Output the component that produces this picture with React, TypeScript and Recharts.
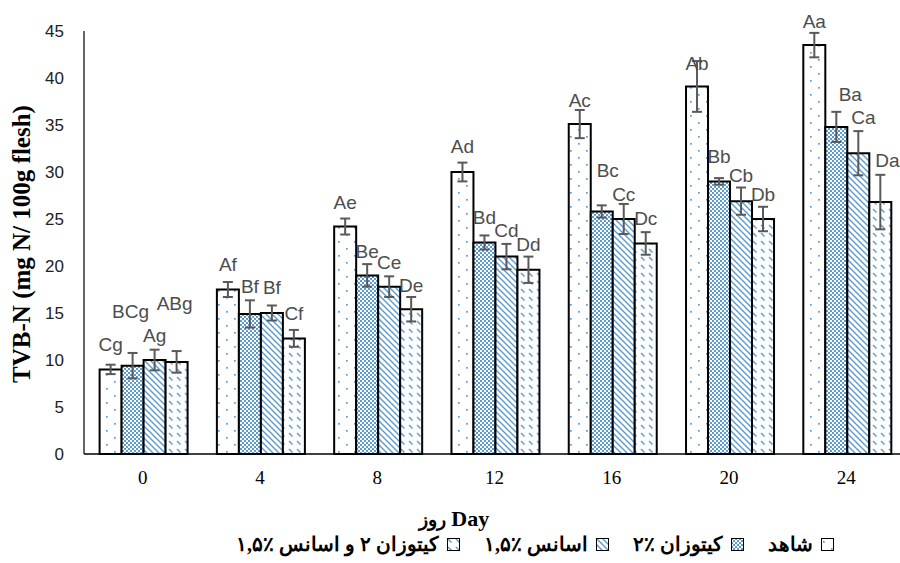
import { Bar, BarChart, ErrorBar, LabelList, XAxis, YAxis } from "recharts";

const DAYS = ["0", "4", "8", "12", "16", "20", "24"];
const Y_TICKS = [0, 5, 10, 15, 20, 25, 30, 35, 40, 45];

const SERIES_NAMES = ["شاهد", "کیتوزان ۲٪", "اسانس ۱,۵٪", "کیتوزان ۲ و اسانس ۱,۵٪"];

const CONTROL = [9.0, 17.5, 24.2, 30.0, 35.1, 39.1, 43.5];
const CHITOSAN = [9.4, 14.9, 19.0, 22.5, 25.8, 29.0, 34.8];
const ESSENCE = [10.0, 15.0, 17.8, 21.0, 25.0, 26.9, 32.0];
const COMBINED = [9.8, 12.3, 15.4, 19.6, 22.4, 25.0, 26.8];

const CONTROL_SD = [0.5, 0.8, 0.85, 1.0, 1.5, 2.7, 1.3];
const CHITOSAN_SD = [1.35, 1.45, 1.2, 0.75, 0.65, 0.35, 1.6];
const ESSENCE_SD = [1.1, 0.8, 1.1, 1.35, 1.6, 1.45, 2.35];
const COMBINED_SD = [1.15, 0.9, 1.3, 1.4, 1.2, 1.3, 2.9];

const CONTROL_LETTERS = ["Cg", "Af", "Ae", "Ad", "Ac", "Ab", "Aa"];
const CHITOSAN_LETTERS = ["BCg", "Bf", "Be", "Bd", "Bc", "Bb", "Ba"];
const ESSENCE_LETTERS = ["Ag", "Bf", "Ce", "Cd", "Cc", "Cb", "Ca"];
const COMBINED_LETTERS = ["ABg", "Cf", "De", "Dd", "Dc", "Db", "Da"];

// hand-placed label nudges (px), like the moved labels in the original sheet
const CONTROL_LIFT = [20, 17, 16, 16, 9, -2, 11];
const CHITOSAN_LIFT = [41, 14, 13, 18, 35, 22, 17];
const ESSENCE_LIFT = [14, 18, 14, 13, 9, 12, 14];
const COMBINED_LIFT = [48, 16, 12, 12, 14, 12, 14];
const CONTROL_DX = [0, 0, 0, 0, 0, 0, 0];
const CHITOSAN_DX = [-2, 0, 0, 0, 6, 0, 14];
const ESSENCE_DX = [0, 0, 0, 0, 0, 0, 5];
const COMBINED_DX = [-2, 0, 0, 0, 0, 0, 7];

const BLUE = "#5b9bd5";

const data = DAYS.map((day, i) => ({
  day,
  control: CONTROL[i],
  chitosan: CHITOSAN[i],
  essence: ESSENCE[i],
  combined: COMBINED[i],
  controlSd: CONTROL_SD[i],
  chitosanSd: CHITOSAN_SD[i],
  essenceSd: ESSENCE_SD[i],
  combinedSd: COMBINED_SD[i],
  controlTag: CONTROL_LETTERS[i],
  chitosanTag: CHITOSAN_LETTERS[i],
  essenceTag: ESSENCE_LETTERS[i],
  combinedTag: COMBINED_LETTERS[i],
}));

const series = [
  { key: "control", pattern: "p-dots", values: CONTROL, sd: CONTROL_SD, letters: CONTROL_LETTERS, lift: CONTROL_LIFT, dx: CONTROL_DX },
  { key: "chitosan", pattern: "p-check", values: CHITOSAN, sd: CHITOSAN_SD, letters: CHITOSAN_LETTERS, lift: CHITOSAN_LIFT, dx: CHITOSAN_DX },
  { key: "essence", pattern: "p-diag", values: ESSENCE, sd: ESSENCE_SD, letters: ESSENCE_LETTERS, lift: ESSENCE_LIFT, dx: ESSENCE_DX },
  { key: "combined", pattern: "p-dash", values: COMBINED, sd: COMBINED_SD, letters: COMBINED_LETTERS, lift: COMBINED_LIFT, dx: COMBINED_DX },
];

function makeLabel(s: (typeof series)[number]) {
  return (props: any) => {
    const vb = props.viewBox ?? props;
    const i = typeof props.index === "number" ? props.index : s.letters.indexOf(props.value);
    if (i < 0) return null;
    const x = Number(vb.x ?? props.x);
    const y = Number(vb.y ?? props.y);
    const w = Number(vb.width ?? props.width);
    const h = Number(vb.height ?? props.height);
    const errPx = (h / s.values[i]) * s.sd[i];
    return (
      <text
        x={x + w / 2 + s.dx[i]}
        y={y - errPx - s.lift[i]}
        textAnchor="middle"
        dominantBaseline="central"
        fontFamily="'Liberation Sans', Arial, sans-serif"
        fontSize={19}
        fill="#4d4d4d"
      >
        {s.letters[i]}
      </text>
    );
  };
}

// keep "۱,۵٪" reading as one number with the sign after the digits
function LegendText({ text }: { text: string }) {
  const words = text.split(" ");
  return (
    <span dir="rtl">
      {words.map((w, i) => (
        <span key={i}>
          {/[۰-۹]/.test(w) && w.length > 1 ? <bdi dir="ltr">{w}</bdi> : w}
          {i < words.length - 1 ? " " : ""}
        </span>
      ))}
    </span>
  );
}

function Patterns() {
  return (
    <svg width={0} height={0} style={{ position: "absolute" }}>
      <defs>
        <pattern id="p-dots" width={16} height={14} patternUnits="userSpaceOnUse">
          <rect width={16} height={14} fill="#fff" />
          <rect x={2} y={3} width={1.7} height={1.7} fill={BLUE} />
          <rect x={10} y={10} width={1.7} height={1.7} fill={BLUE} />
        </pattern>
        <pattern id="p-check" width={4} height={4} patternUnits="userSpaceOnUse">
          <rect width={4} height={4} fill="#fff" />
          <rect width={2} height={2} fill={BLUE} />
          <rect x={2} y={2} width={2} height={2} fill={BLUE} />
        </pattern>
        <pattern id="p-diag" width={6} height={6} patternUnits="userSpaceOnUse">
          <rect width={6} height={6} fill="#fff" />
          <path d="M-1,-1 L7,7 M-1,5 L1,7 M5,-1 L7,1" stroke={BLUE} strokeWidth={1.4} />
        </pattern>
        <pattern id="p-dash" width={8} height={8} patternUnits="userSpaceOnUse">
          <rect width={8} height={8} fill="#fff" />
          <path d="M1,1 L4.5,4.5" stroke={BLUE} strokeWidth={1.4} />
        </pattern>
      </defs>
    </svg>
  );
}

export default function App() {
  return (
    <div
      style={{
        position: "absolute",
        left: 0,
        top: 0,
        width: 900,
        height: 563,
        overflow: "hidden",
        background: "#fff",
      }}
    >
      <Patterns />
      <BarChart
        width={905}
        height={563}
        data={data}
        margin={{ top: 31, right: 0, bottom: 67, left: 0 }}
        barGap={0}
        barCategoryGap={15.6}
      >
        <XAxis
          dataKey="day"
          height={42}
          tickLine={false}
          tickSize={0}
          tickMargin={17}
          axisLine={{ stroke: "#000", strokeWidth: 1.5 }}
          tick={{ fill: "#000", fontSize: 19, fontFamily: "'Liberation Serif', 'Times New Roman', serif" }}
        />
        <YAxis
          domain={[0, 45]}
          ticks={Y_TICKS}
          interval={0}
          width={84}
          tickLine={false}
          tickSize={0}
          tickMargin={20}
          axisLine={{ stroke: "#000", strokeWidth: 1.2 }}
          tick={{ fill: "#222", fontSize: 17, fontFamily: "'Liberation Sans', Arial, sans-serif" }}
        />
        {series.map((s) => (
          <Bar
            key={s.key}
            dataKey={s.key}
            fill={`url(#${s.pattern})`}
            stroke="#000"
            strokeWidth={2}
            isAnimationActive={false}
          >
            <ErrorBar
              dataKey={`${s.key}Sd`}
              width={5}
              stroke="#595959"
              strokeWidth={2}
              isAnimationActive={false}
            />
            <LabelList dataKey={`${s.key}Tag`} content={makeLabel(s)} />
          </Bar>
        ))}
      </BarChart>

      <div
        style={{
          position: "absolute",
          left: 22,
          top: 244,
          transform: "translate(-50%, -50%) rotate(-90deg)",
          whiteSpace: "nowrap",
          fontFamily: "'Liberation Serif', 'Times New Roman', serif",
          fontWeight: "bold",
          fontSize: 25,
          color: "#000",
        }}
      >
        TVB-N (mg N/ 100g flesh)
      </div>

      <div
        style={{
          position: "absolute",
          left: 454,
          top: 519,
          transform: "translate(-50%, -50%)",
          whiteSpace: "nowrap",
          lineHeight: "20px",
          fontFamily: "'Liberation Serif', 'Times New Roman', serif",
          fontWeight: "bold",
          fontSize: 22,
          color: "#000",
        }}
      >
        <span style={{ fontSize: 19 }}>روز</span> Day
      </div>

      <div
        style={{
          position: "absolute",
          left: 170,
          right: 0,
          top: 535,
          height: 18,
          lineHeight: "18px",
          display: "flex",
          justifyContent: "center",
          alignItems: "center",
          direction: "rtl",
          gap: 24,
          fontFamily: "'Liberation Serif', 'Times New Roman', serif",
          fontWeight: "bold",
          fontSize: 20,
          color: "#000",
          whiteSpace: "nowrap",
        }}
      >
        {series.map((s, i) => (
          <span key={s.key} style={{ display: "flex", alignItems: "center", gap: 8 }}>
            <svg width={13} height={13}>
              <rect x={0.5} y={0.5} width={12} height={12} fill={`url(#${s.pattern})`} stroke="#000" strokeWidth={1} />
            </svg>
            <LegendText text={SERIES_NAMES[i]} />
          </span>
        ))}
      </div>
    </div>
  );
}
